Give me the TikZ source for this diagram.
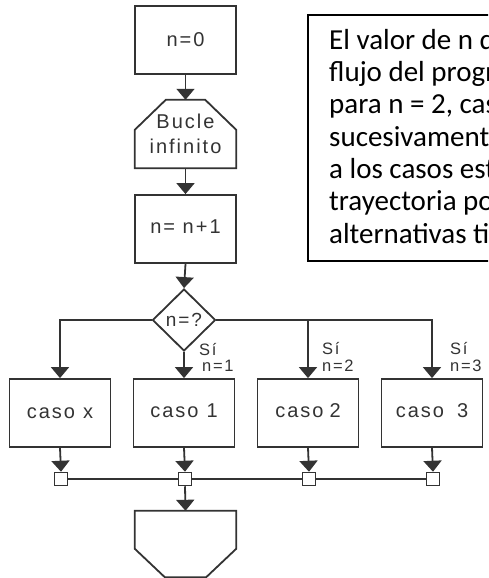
\documentclass[tikz,border=0pt]{standalone}
\usepackage{fontspec}
\setmainfont{Liberation Sans}[LetterSpace=10]
\newfontfamily\notefont{Carlito}
\usetikzlibrary{shapes.geometric,arrows.meta,calc}
\definecolor{ink}{HTML}{333333}
\begin{document}
\begin{tikzpicture}[x=1pt,y=-1pt,
  ln/.style={line width=1.8pt,draw=ink},
  arr/.style={ln,-{Triangle[width=18pt,length=11pt]}},
  pbox/.style={draw=ink,line width=1.8pt,minimum width=101pt,minimum height=68pt,inner sep=0pt,text=ink,font=\fontsize{20}{24}\selectfont},
  ghost/.style={minimum width=101pt,inner sep=0pt,text=ink,font=\fontsize{20}{25}\selectfont,align=center},
  dec/.style={diamond,draw=ink,line width=1.8pt,minimum width=63pt,minimum height=62pt,inner sep=0pt,text=ink,font=\fontsize{19}{22}\selectfont},
  sq/.style={draw=ink,line width=1.5pt,fill=white,minimum size=13pt,inner sep=0pt},
  lab/.style={anchor=west,inner sep=0pt,text=ink,font=\fontsize{16.5}{18}\selectfont},
]
\useasboundingbox (0,0) rectangle (488,578);
\clip (0,0) rectangle (488,578);

% main column
\node[pbox] (init) at (185.5,40) {n=0};
\node[ghost,minimum height=68pt] (loop) at (185.5,134) {Bucle\\infinito};
\draw[ln] ($(loop.north west)+(31,0)$) -- ($(loop.north east)+(-31,0)$) -- ($(loop.north east)+(0,30)$)
  -- (loop.south east) -- (loop.south west) -- ($(loop.north west)+(0,30)$) -- cycle;
\node[pbox] (inc) at (185.5,229) {\raisebox{4pt}{n= n+1}\hspace{12pt}};
\node[dec] (dec) at (184,320) {n=?\hspace{7pt}};

% cases
\node[pbox] (cx) at (60,413) {caso\hspace{8pt}x};
\node[pbox] (c1) at (184,413) {\raisebox{5pt}{caso\hspace{8pt}1}};
\node[pbox] (c2) at (308,413) {\raisebox{5pt}{caso\hspace{6pt}2}};
\node[pbox] (c3) at (432,413) {\raisebox{5pt}{caso\hspace{13pt}3}};

% junction squares
\node[sq] (qA) at (61,479) {};
\node[sq] (qB) at (185,479) {};
\node[sq] (qC) at (309,479) {};
\node[sq] (qD) at (433,479) {};

% end of loop
\node[ghost,minimum height=66pt] (fin) at (185.5,544) {};
\draw[ln] (fin.north west) -- (fin.north east) -- ($(fin.north east)+(0,38)$) -- ($(fin.south east)+(-30,0)$)
  -- ($(fin.south west)+(30,0)$) -- ($(fin.north west)+(0,38)$) -- cycle;

% connectors
\draw[arr] (init.south) -- (loop.north);
\draw[arr] (loop.south) -- (inc.north);
\draw[arr] (inc.south) -- (dec.north);
\draw[arr] (dec.west) -| (cx.north);
\draw[arr] (dec.south) -- (c1.north);
\draw[arr] (dec.east) -| (c3.north);
\draw[arr] (dec.east -| c2.north) -- (c2.north);
\draw[arr] (cx.south) -- (qA.north);
\draw[arr] (c1.south) -- (qB.north);
\draw[arr] (c2.south) -- (qC.north);
\draw[arr] (c3.south) -- (qD.north);
\draw[ln] (qA.east) -- (qB.west);
\draw[ln] (qB.east) -- (qC.west);
\draw[ln] (qC.east) -- (qD.west);
\draw[arr] (qB.south) -- (fin.north);

% branch labels
\node[lab] (s1) at ($(c1.north)+(15,-29)$) {Sí};
\node[lab] (n1) at ($(c1.north)+(18,-12)$) {n=1};
\node[lab] (s2) at ($(c2.north)+(14,-30)$) {Sí};
\node[lab] (n2) at ($(c2.north)+(14,-12)$) {n=2};
\node[lab] (s3) at ($(c3.north)+(18,-30)$) {Sí};
\node[lab] (n3) at ($(c3.north)+(18,-12)$) {n=3};

% note box
\node[draw=black,line width=2pt,anchor=north west,minimum width=260pt,minimum height=246pt,inner sep=0pt] (note) at (307,14) {};
\node[anchor=north west,inner sep=0pt,align=left,text=black,font=\notefont\fontsize{29}{32.3}\selectfont] (notetext) at (329,29)
{El valor de n determina el\\flujo del programa. Así,\\para n = 2, caso 2, y así\\sucesivamente. Si n no se\\a los casos establecidos, la\\trayectoria por defecto de\\alternativas tiene lugar};
\end{tikzpicture}
\end{document}
